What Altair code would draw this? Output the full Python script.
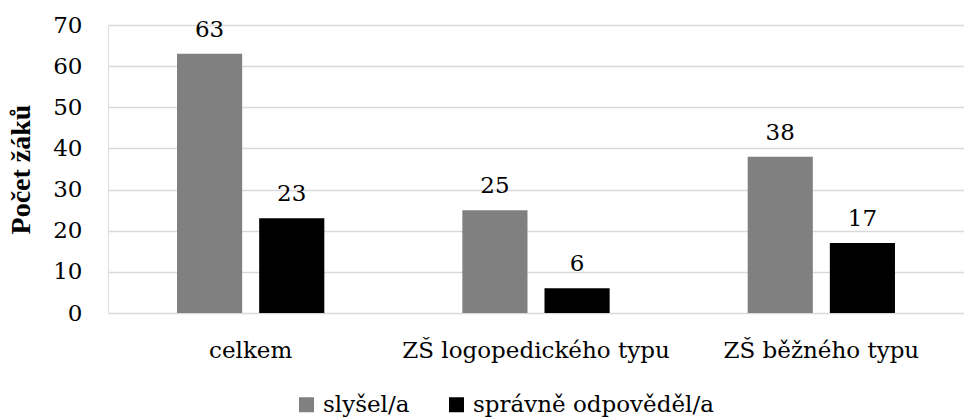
import altair as alt
import pandas as pd

# Grouped bar chart: pupils who heard vs. answered correctly, by school type
categories = ["celkem", "ZŠ logopedického typu", "ZŠ běžného typu"]
series = ["slyšel/a", "správně odpověděl/a"]
heard = [63, 25, 38]
correct = [23, 6, 17]
y_ticks = [0, 10, 20, 30, 40, 50, 60, 70]

rows = []
for cat, h, c in zip(categories, heard, correct):
    rows.append({"skupina": cat, "řada": series[0], "počet": h})
    rows.append({"skupina": cat, "řada": series[1], "počet": c})
df = pd.DataFrame(rows)

FONT = "DejaVu Serif"
TITLE_FONT = "Liberation Serif"
FS = 23

x_enc = alt.X(
    "skupina:N",
    sort=categories,
    scale=alt.Scale(paddingInner=0, paddingOuter=0),
    axis=alt.Axis(
        title=None,
        labelAngle=0,
        labelFont=FONT,
        labelFontSize=FS,
        labelColor="#000000",
        labelPadding=44,
        labelBaseline="alphabetic",
        labelLimit=500,
        domain=False,
        ticks=False,
    ),
)
xoff_enc = alt.XOffset(
    "řada:N",
    sort=series,
    scale=alt.Scale(paddingInner=0.207, paddingOuter=0.84),
)
y_enc = alt.Y(
    "počet:Q",
    scale=alt.Scale(domain=[0, 70], nice=False),
    axis=alt.Axis(
        title="Počet žáků",
        titleFont=TITLE_FONT,
        titleFontSize=28,
        titleFontWeight="bold",
        titleColor="#000000",
        titleAngle=270,
        titleAlign="center",
        titleBaseline="middle",
        titleX=-87,
        titleY=144,
        values=y_ticks,
        labelFont=FONT,
        labelFontSize=FS,
        labelColor="#000000",
        labelPadding=26,
        domain=False,
        ticks=False,
        grid=True,
        gridColor="#d9d9d9",
        gridWidth=1.3,
    ),
)
color_enc = alt.Color(
    "řada:N",
    sort=series,
    scale=alt.Scale(domain=series, range=["#808080", "#000000"]),
    legend=alt.Legend(
        title=None,
        orient="none",
        direction="horizontal",
        legendX=187,
        legendY=368,
        symbolType="square",
        symbolSize=225,
        symbolStrokeWidth=0,
        labelFont=FONT,
        labelFontSize=FS,
        labelColor="#000000",
        labelOffset=5,
        labelLimit=500,
        columnPadding=35,
    ),
)

bars = alt.Chart(df).mark_bar().encode(
    x=x_enc, xOffset=xoff_enc, y=y_enc, color=color_enc
)

labels = alt.Chart(df).mark_text(
    font=FONT, fontSize=FS, color="#000000", baseline="alphabetic", dy=-17
).encode(
    x=alt.X("skupina:N", sort=categories),
    xOffset=alt.XOffset("řada:N", sort=series),
    y="počet:Q",
    text="počet:Q",
)

chart = (
    alt.layer(bars, labels)
    .properties(
        width=856,
        height=288,
        autosize=alt.AutoSizeParams(type="none"),
        padding={"left": 108, "top": 25, "right": 0, "bottom": 105},
    )
    .configure_view(stroke=None)
    .configure(background="#ffffff")
)

chart.save("out.html", embed_options={"renderer": "svg", "actions": False})
